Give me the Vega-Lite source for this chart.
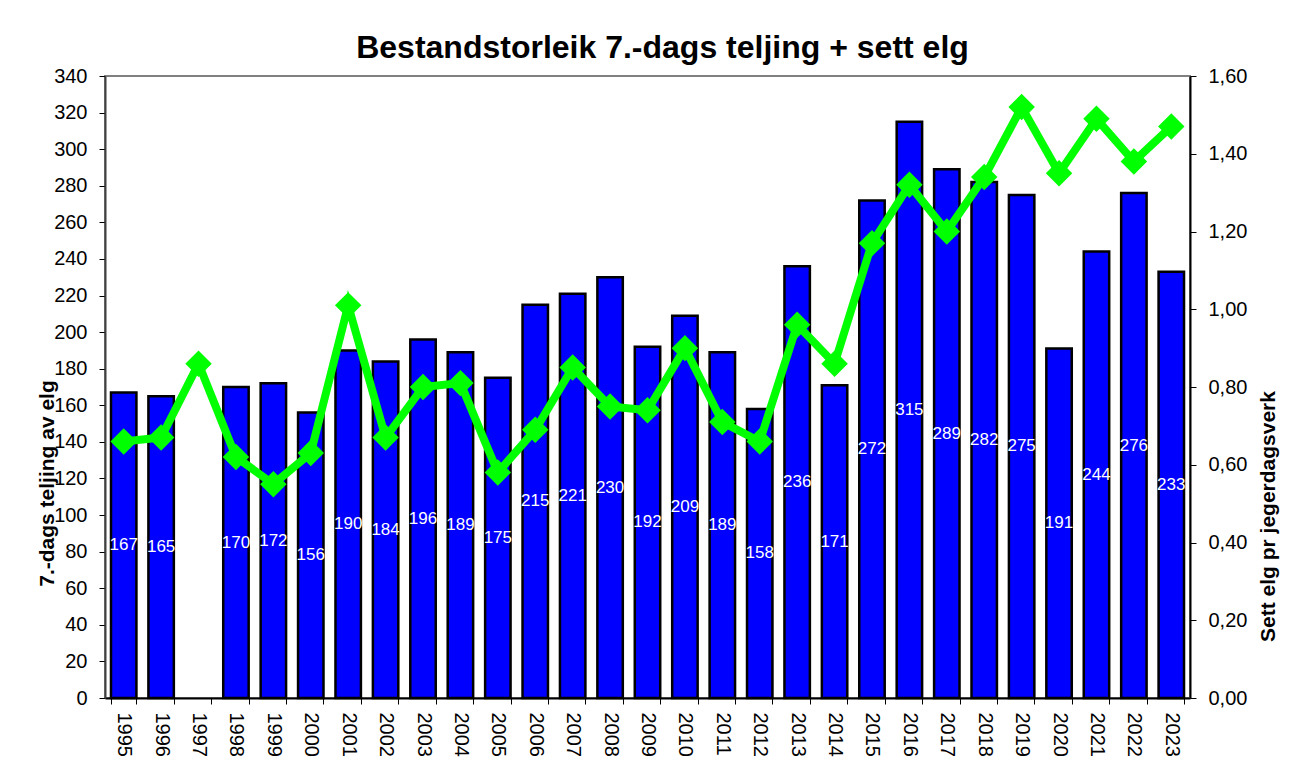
{
  "$schema": "https://vega.github.io/schema/vega-lite/v6.json",
  "width": 1085,
  "height": 622,
  "autosize": {"type": "none"},
  "padding": {"left": 105, "top": 76, "right": 102, "bottom": 80},
  "background": "white",
  "title": {
    "text": "Bestandstorleik 7.-dags teljing + sett elg",
    "font": "Liberation Sans",
    "fontSize": 32,
    "fontWeight": "bold",
    "color": "black",
    "anchor": "middle",
    "offset": 1,
    "dx": 15
  },
  "data": {
    "values": [
      {"year": "1995", "teljing": 167, "sett": 0.66},
      {"year": "1996", "teljing": 165, "sett": 0.67},
      {"year": "1997", "teljing": null, "sett": 0.86},
      {"year": "1998", "teljing": 170, "sett": 0.62},
      {"year": "1999", "teljing": 172, "sett": 0.55},
      {"year": "2000", "teljing": 156, "sett": 0.63},
      {"year": "2001", "teljing": 190, "sett": 1.01},
      {"year": "2002", "teljing": 184, "sett": 0.67},
      {"year": "2003", "teljing": 196, "sett": 0.80},
      {"year": "2004", "teljing": 189, "sett": 0.81},
      {"year": "2005", "teljing": 175, "sett": 0.58},
      {"year": "2006", "teljing": 215, "sett": 0.69},
      {"year": "2007", "teljing": 221, "sett": 0.85},
      {"year": "2008", "teljing": 230, "sett": 0.75},
      {"year": "2009", "teljing": 192, "sett": 0.74},
      {"year": "2010", "teljing": 209, "sett": 0.90},
      {"year": "2011", "teljing": 189, "sett": 0.71},
      {"year": "2012", "teljing": 158, "sett": 0.66},
      {"year": "2013", "teljing": 236, "sett": 0.96},
      {"year": "2014", "teljing": 171, "sett": 0.86},
      {"year": "2015", "teljing": 272, "sett": 1.17},
      {"year": "2016", "teljing": 315, "sett": 1.32},
      {"year": "2017", "teljing": 289, "sett": 1.20},
      {"year": "2018", "teljing": 282, "sett": 1.34},
      {"year": "2019", "teljing": 275, "sett": 1.52},
      {"year": "2020", "teljing": 191, "sett": 1.35},
      {"year": "2021", "teljing": 244, "sett": 1.49},
      {"year": "2022", "teljing": 276, "sett": 1.38},
      {"year": "2023", "teljing": 233, "sett": 1.47}
    ]
  },
  "encoding": {
    "x": {
      "field": "year",
      "type": "ordinal",
      "scale": {"paddingInner": 0.32, "paddingOuter": 0.16},
      "axis": {
        "title": null,
        "labelAngle": 90,
        "labelAlign": "left",
        "labelBaseline": "middle",
        "labelFontSize": 20,
        "labelFont": "Liberation Sans",
        "labelColor": "black",
        "labelPadding": 8,
        "tickBand": "extent",
        "tickSize": 6,
        "tickColor": "black",
        "domainColor": "black",
        "domainWidth": 2
      }
    }
  },
  "layer": [
    {
      "mark": {"type": "bar", "color": "#0000FF", "stroke": "black", "strokeWidth": 2.5},
      "encoding": {
        "y": {
          "field": "teljing",
          "type": "quantitative",
          "scale": {"domain": [0, 340], "nice": false},
          "axis": {
            "orient": "left",
            "title": "7.-dags teljing av elg",
            "titleFont": "Liberation Sans",
            "titleFontSize": 21,
            "titleFontWeight": "bold",
            "titleColor": "black",
            "titleAngle": 270,
            "titleAlign": "center",
            "titleBaseline": "bottom",
            "titleX": -48,
            "titleY": 407,
            "values": [0, 20, 40, 60, 80, 100, 120, 140, 160, 180, 200, 220, 240, 260, 280, 300, 320, 340],
            "labelFontSize": 20,
            "labelFont": "Liberation Sans",
            "labelColor": "black",
            "labelPadding": 12,
            "tickSize": 6,
            "tickColor": "black",
            "domainColor": "#404040",
            "domainWidth": 2,
            "grid": false
          }
        }
      }
    },
    {
      "mark": {"type": "text", "color": "white", "font": "Liberation Sans", "fontSize": 17, "baseline": "middle", "align": "center"},
      "encoding": {
        "y": {
          "field": "teljing",
          "type": "quantitative",
          "scale": {"domain": [0, 680], "nice": false},
          "axis": null
        },
        "text": {"field": "teljing", "type": "quantitative"}
      }
    },
    {
      "mark": {
        "type": "line",
        "color": "#00FF00",
        "strokeWidth": 8,
        "point": {"shape": "diamond", "size": 700, "filled": true, "color": "#00FF00", "opacity": 1}
      },
      "encoding": {
        "y": {
          "field": "sett",
          "type": "quantitative",
          "scale": {"domain": [0, 1.6], "nice": false},
          "axis": {
            "orient": "right",
            "title": "Sett elg pr jegerdagsverk",
            "titleAngle": 270,
            "titleAlign": "center",
            "titleBaseline": "bottom",
            "titleX": 88,
            "titleY": 440,
            "titleFont": "Liberation Sans",
            "titleFontSize": 21,
            "titleFontWeight": "bold",
            "titleColor": "black",
            "values": [0, 0.2, 0.4, 0.6, 0.8, 1.0, 1.2, 1.4, 1.6],
            "labelExpr": "replace(format(datum.value, '.2f'), '.', ',')",
            "labelFontSize": 20,
            "labelFont": "Liberation Sans",
            "labelColor": "black",
            "labelPadding": 12,
            "tickSize": 6,
            "tickColor": "black",
            "domainColor": "black",
            "domainWidth": 2,
            "grid": false
          }
        }
      }
    }
  ],
  "resolve": {"scale": {"y": "independent"}},
  "config": {
    "view": {"stroke": "#808080", "strokeWidth": 2}
  }
}
